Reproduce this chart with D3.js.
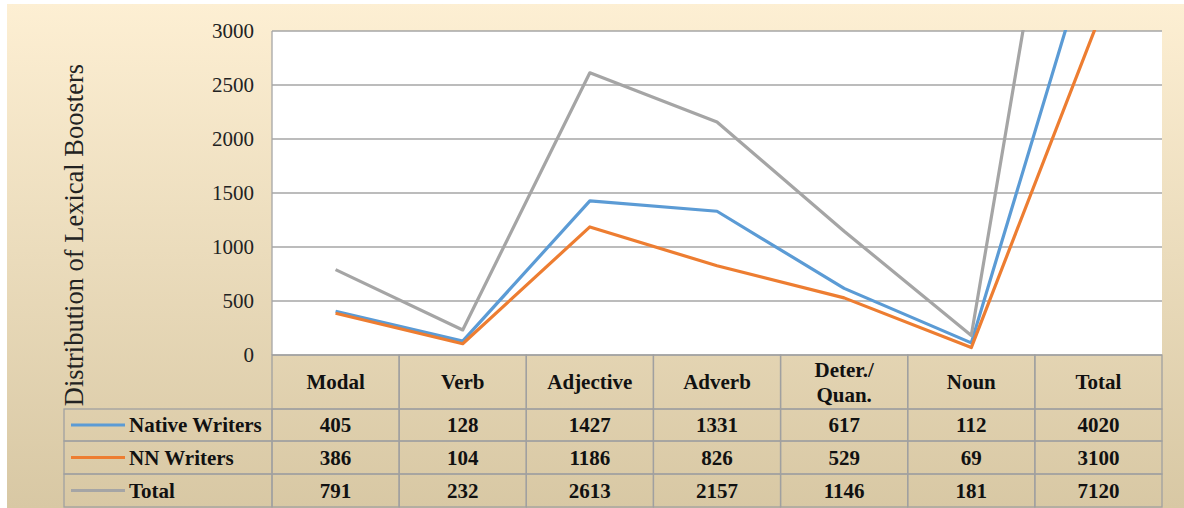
<!DOCTYPE html>
<html>
<head>
<meta charset="utf-8">
<script src="https://cdn.jsdelivr.net/npm/d3@7"></script>
<style>
  body { margin: 0; background: #fff; }
</style>
</head>
<body>
<svg id="chart_svg" width="1184" height="508" font-family="'Liberation Serif', 'Times New Roman', Times, serif"></svg>
<script>
// Data
const categories = ["Modal", "Verb", "Adjective", "Adverb", "Deter./\nQuan.", "Noun", "Total"];
const seriesNames = ["Native Writers", "NN Writers", "Total"];
const nativeValues = [405, 128, 1427, 1331, 617, 112, 4020];
const nnValues = [386, 104, 1186, 826, 529, 69, 3100];
const totalValues = [791, 232, 2613, 2157, 1146, 181, 7120];
const yTicks = [0, 500, 1000, 1500, 2000, 2500, 3000];
const colors = ["#5b9bd5", "#ed7d31", "#a5a5a5"];

const allSeries = [nativeValues, nnValues, totalValues];
const serif = "'Liberation Serif', 'Times New Roman', Times, serif";

const svg = d3.select("#chart_svg");

// background gradient
const defs = svg.append("defs");
const grad = defs.append("linearGradient")
  .attr("id", "bg")
  .attr("x1", 0).attr("y1", 0).attr("x2", 0).attr("y2", 1);
grad.append("stop").attr("offset", "0%").attr("stop-color", "#fdefd3");
grad.append("stop").attr("offset", "100%").attr("stop-color", "#d8c8a4");

svg.append("rect")
  .attr("x", 7).attr("y", 4)
  .attr("width", 1177).attr("height", 504)
  .attr("fill", "url(#bg)");

// plot area
const plotLeft = 272, plotRight = 1162, plotTop = 31, plotBottom = 355;

const x = d3.scaleBand()
  .domain(categories)
  .range([plotLeft, plotRight]);

const y = d3.scaleLinear()
  .domain([0, 3000])
  .range([plotBottom, plotTop]);

defs.append("clipPath").attr("id", "plotclip")
  .append("rect")
  .attr("x", plotLeft).attr("y", plotTop - 1)
  .attr("width", plotRight - plotLeft).attr("height", plotBottom - plotTop + 2);

svg.append("rect")
  .attr("x", plotLeft).attr("y", plotTop)
  .attr("width", plotRight - plotLeft).attr("height", plotBottom - plotTop)
  .attr("fill", "#fff");

// gridlines
svg.append("g")
  .selectAll("line")
  .data(yTicks)
  .join("line")
  .attr("x1", plotLeft).attr("x2", plotRight)
  .attr("y1", d => y(d)).attr("y2", d => y(d))
  .attr("stroke", "#a6a6a6")
  .attr("stroke-width", 1.3);

svg.append("line")
  .attr("x1", plotLeft).attr("x2", plotLeft)
  .attr("y1", plotTop).attr("y2", plotBottom)
  .attr("stroke", "#a6a6a6")
  .attr("stroke-width", 1.3);

// tick labels
svg.append("g")
  .selectAll("text")
  .data(yTicks)
  .join("text")
  .attr("x", 254)
  .attr("y", d => y(d))
  .attr("dy", "0.33em")
  .attr("text-anchor", "end")
  .attr("font-family", serif)
  .attr("font-size", 21)
  .attr("fill", "#222")
  .text(d => d);

// y title
svg.append("text")
  .attr("transform", "translate(83,235) rotate(-90)")
  .attr("text-anchor", "middle")
  .attr("font-family", serif)
  .attr("font-size", 26.5)
  .attr("fill", "#222")
  .text("Distribution of Lexical Boosters");

// lines
const line = d3.line()
  .x((d, i) => x(categories[i]) + x.bandwidth() / 2)
  .y(d => y(d));

svg.append("g")
  .attr("clip-path", "url(#plotclip)")
  .selectAll("path")
  .data(allSeries)
  .join("path")
  .attr("d", d => line(d))
  .attr("fill", "none")
  .attr("stroke", (d, i) => colors[i])
  .attr("stroke-width", 3.2)
  .attr("stroke-linejoin", "round");

// data table
const tableLeft = 64;
const headerBottom = 409;
const rowH = [409, 441, 474, 507];
const border = "#a0a0a0";
const table = svg.append("g")
  .attr("font-family", serif)
  .attr("font-size", 21)
  .attr("font-weight", "bold")
  .attr("fill", "#111");

// header cells
table.selectAll("rect.hdr")
  .data(categories)
  .join("rect")
  .attr("class", "hdr")
  .attr("x", d => x(d))
  .attr("y", plotBottom)
  .attr("width", x.bandwidth())
  .attr("height", headerBottom - plotBottom)
  .attr("fill", "none")
  .attr("stroke", border)
  .attr("stroke-width", 1.3);

// header labels, one text per line so wrapped labels don't overlap
table.selectAll("g.hdr")
  .data(categories)
  .join("g")
  .attr("class", "hdr")
  .each(function(d) {
    const parts = d.split("\n");
    const cx = x(d) + x.bandwidth() / 2;
    const cy = (plotBottom + headerBottom) / 2;
    const lh = 24.5;
    parts.forEach((p, k) => {
      d3.select(this).append("text")
        .attr("x", cx)
        .attr("y", cy + (k - (parts.length - 1) / 2) * lh)
        .attr("dy", "0.35em")
        .attr("text-anchor", "middle")
        .text(p);
    });
  });

// body rows
allSeries.forEach((vals, r) => {
  const y0 = rowH[r], y1 = rowH[r + 1];
  table.append("rect")
    .attr("x", tableLeft).attr("y", y0)
    .attr("width", plotLeft - tableLeft).attr("height", y1 - y0)
    .attr("fill", "none")
    .attr("stroke", border)
    .attr("stroke-width", 1.3);
  table.append("line")
    .attr("x1", 71).attr("x2", 125)
    .attr("y1", (y0 + y1) / 2).attr("y2", (y0 + y1) / 2)
    .attr("stroke", colors[r])
    .attr("stroke-width", 3.2);
  table.append("text")
    .attr("x", 129)
    .attr("y", (y0 + y1) / 2)
    .attr("dy", "0.35em")
    .text(seriesNames[r]);

  table.selectAll(null)
    .data(categories)
    .join("rect")
    .attr("x", d => x(d))
    .attr("y", y0)
    .attr("width", x.bandwidth())
    .attr("height", y1 - y0)
    .attr("fill", "none")
    .attr("stroke", border)
    .attr("stroke-width", 1.3);

  table.selectAll(null)
    .data(vals)
    .join("text")
    .attr("x", (d, i) => x(categories[i]) + x.bandwidth() / 2)
    .attr("y", (y0 + y1) / 2)
    .attr("dy", "0.35em")
    .attr("text-anchor", "middle")
    .text(d => d);
});
</script>
</body>
</html>
